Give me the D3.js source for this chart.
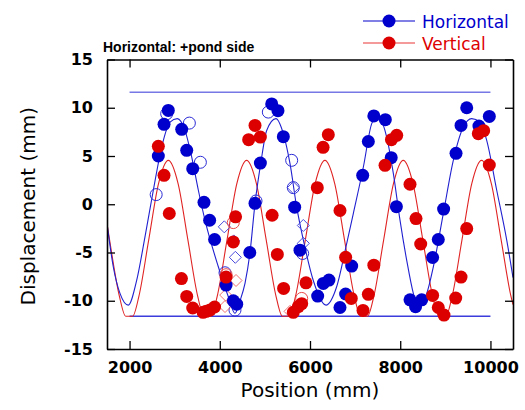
<!DOCTYPE html>
<html>
<head>
<meta charset="utf-8">
<script src="https://cdn.jsdelivr.net/npm/d3@7"></script>
<style>
  html, body { margin: 0; padding: 0; background: #fff; }
  svg { display: block; }
</style>
</head>
<body>
<svg id="chart" width="525" height="410"></svg>
<script>
// ---------------- DATA ----------------
const xTicks = [2000, 4000, 6000, 8000, 10000];
const yTicks = [-15, -10, -5, 0, 5, 10, 15];
const xDomain = [1500, 10500];
const yDomain = [-15, 15];

const titleText = "Horizontal: +pond side";
const xTitle = "Position (mm)";
const yTitle = "Displacement (mm)";
const seriesNames = ["Horizontal", "Vertical"];

// limit lines (mm)
const limitX = [2000, 10000];
const limitLevels = [11.6, -11.6];

// Horizontal measurements (filled blue)
const horizontal = [
  [2638, 5.0], [2764, 8.28], [2859, 9.72], [3156, 7.76], [3267, 5.59], [3400, 3.69],
  [3650, 0.2], [3775, -1.66], [3885, -3.65], [4140, -8.38], [4300, -10.0], [4375, -10.35],
  [4665, -5.0], [4781, 0.1], [4900, 4.27], [5151, 10.4], [5290, 9.7], [5409, 7.0],
  [5660, -0.3], [5778, -4.76], [6170, -9.52], [6295, -8.2], [6420, -7.86], [6665, -10.7],
  [6790, -9.3], [6924, -6.41], [7168, 3.0], [7293, 6.5], [7415, 9.15], [7670, 8.76],
  [7800, 4.83], [7915, -0.25], [8217, -9.9], [8340, -10.62], [8476, -9.9], [8718, -5.52],
  [8844, -3.65], [8962, -0.5], [9237, 5.28], [9348, 8.17], [9474, 10.0], [9745, 8.1],
  [9975, 9.1]
];

// Vertical measurements (filled red)
const vertical = [
  [2638, 6.0], [2764, 3.0], [2881, -0.96], [3150, -7.7], [3267, -9.55], [3400, -10.75],
  [3630, -11.2], [3700, -11.1], [3783, -10.97], [3885, -10.65], [4140, -7.55], [4300, -3.9],
  [4350, -1.3], [4640, 6.69], [4781, 8.17], [4900, 6.96], [5160, -1.14], [5276, -5.2],
  [5415, -8.72], [5630, -11.2], [5741, -10.6], [5816, -10.3], [5911, -8.14], [6162, 1.72],
  [6290, 5.9], [6406, 7.21], [6665, -0.65], [6790, -5.5], [6915, -9.76], [7175, -11.0],
  [7293, -9.33], [7415, -6.31], [7663, 4.03], [7805, 6.69], [7922, 7.14], [8217, 2.07],
  [8350, -1.48], [8454, -4.12], [8718, -9.45], [8844, -10.7], [8970, -11.48], [9230, -9.72],
  [9348, -7.55], [9474, -2.52], [9731, 7.31], [9850, 7.62], [9975, 4.07]
];

// additional horizontal readings (open blue circles / diamonds)
const horizontalOpenCircles = [
  [2590, 1.0], [2823, 9.38], [3326, 8.41], [3570, 4.35], [4116, -7.1], [4337, -10.97],
  [4803, 0.34], [5076, 9.55], [5594, 4.55], [5630, 1.72], [5837, -5.1]
];
const horizontalOpenDiamonds = [
  [4100, -2.34], [4310, -3.8], [4345, -5.5], [5630, 1.72], [5852, -2.2], [5852, -4.05]
];
// additional vertical readings (open red circles / diamonds)
const verticalOpenCircles = [
  [4300, -1.9], [4140, -7.3], [5816, -9.76]
];
const verticalOpenDiamonds = [
  [4360, -7.9], [4131, -9.41], [4116, -10.6], [5557, -11.1]
];

// fitted curves
const horizontalCurve = [
  [1500, -2.0], [1640, -6.5], [1788, -9.24], [1972, -10.45], [2159, -7.86], [2342, -3.38],
  [2527, 1.45], [2712, 5.93], [2897, 8.51], [3059, 8.87], [3229, 7.65], [3377, 4.9],
  [3525, 1.45], [3672, -1.65], [3968, -6.48], [4190, -9.59], [4337, -11.3], [4448, -10.0],
  [4559, -8.2], [4670, -5.0], [4781, 0.07], [4907, 4.2], [5040, 7.65], [5246, 8.87],
  [5409, 7.3], [5557, 4.2], [5705, -0.3], [5852, -3.7], [6073, -7.9], [6355, -10.45],
  [6591, -8.55], [6813, -4.07], [6960, -0.97], [7183, 3.86], [7368, 8.35], [7478, 9.03],
  [7552, 8.87], [7700, 6.96], [7848, 3.17], [7995, -1.65], [8143, -5.79], [8291, -9.24],
  [8380, -10.5], [8587, -9.24], [8734, -6.48], [8955, -0.97], [9177, 4.55], [9399, 8.0],
  [9584, 8.87], [9769, 8.5], [9917, 6.62], [10139, 1.45], [10361, -3.72], [10500, -7.6]
];
const verticalCurve = [
  [1500, -2.0], [1557, -3.69], [1774, -9.52], [1914, -11.6], [2068, -11.6], [2208, -9.52],
  [2425, -3.69], [2642, 2.14], [2859, 4.55], [3076, 2.14], [3293, -3.69], [3510, -9.52],
  [3650, -11.6], [3804, -11.6], [3944, -9.52], [4161, -3.69], [4378, 2.14], [4595, 4.55],
  [4812, 2.14], [5029, -3.69], [5246, -9.52], [5386, -11.6], [5540, -11.6], [5680, -9.52],
  [5897, -3.69], [6114, 2.14], [6331, 4.55], [6548, 2.14], [6765, -3.69], [6982, -9.52],
  [7122, -11.6], [7276, -11.6], [7416, -9.52], [7633, -3.69], [7850, 2.14], [8067, 4.55],
  [8284, 2.14], [8501, -3.69], [8718, -9.52], [8858, -11.6], [9012, -11.6], [9152, -9.52],
  [9369, -3.69], [9586, 2.14], [9803, 4.55], [10020, 2.14], [10237, -3.69], [10454, -9.52],
  [10500, -10.4]
];

// ---------------- DRAW ----------------
const BLUE = "#0000cc", RED = "#dd0000";
const svg = d3.select("#chart");
const pL = 107, pR = 513, pT = 59.5, pB = 349;

const x = d3.scaleLinear().domain(xDomain).range([pL, pR]);
const y = d3.scaleLinear().domain(yDomain).range([pB, pT]);

svg.append("defs").append("clipPath").attr("id", "plotclip")
  .append("rect").attr("x", pL).attr("y", pT).attr("width", pR - pL).attr("height", pB - pT);

const plot = svg.append("g").attr("clip-path", "url(#plotclip)");

// limit lines
plot.selectAll("line.limit").data(limitLevels).enter().append("line")
  .attr("class", "limit")
  .attr("x1", x(limitX[0])).attr("x2", x(limitX[1]))
  .attr("y1", d => y(d)).attr("y2", d => y(d))
  .attr("stroke", (d, i) => i === 0 ? "#7777e6" : "#3c3cdc")
  .attr("stroke-width", 1.6);

const line = d3.line().x(d => x(d[0])).y(d => y(d[1])).curve(d3.curveMonotoneX);
plot.append("path").datum(verticalCurve).attr("d", line)
  .attr("fill", "none").attr("stroke", "#e02424").attr("stroke-width", 1.1);
plot.append("path").datum(horizontalCurve).attr("d", line)
  .attr("fill", "none").attr("stroke", "#2020d0").attr("stroke-width", 1.1);

const R = 6.5;
const diamond = (cx, cy, s) => `M${cx},${cy - s}L${cx + s},${cy}L${cx},${cy + s}L${cx - s},${cy}Z`;

// open markers
plot.selectAll("circle.ho").data(horizontalOpenCircles).enter().append("circle")
  .attr("cx", d => x(d[0])).attr("cy", d => y(d[1])).attr("r", R - 0.5)
  .attr("fill", "none").attr("stroke", "#2a2ad6").attr("stroke-width", 1);
plot.selectAll("path.hd").data(horizontalOpenDiamonds).enter().append("path")
  .attr("d", d => diamond(x(d[0]), y(d[1]), 6))
  .attr("fill", "none").attr("stroke", "#4a4ade").attr("stroke-width", 1);
plot.selectAll("circle.vo").data(verticalOpenCircles).enter().append("circle")
  .attr("cx", d => x(d[0])).attr("cy", d => y(d[1])).attr("r", R - 0.5)
  .attr("fill", "none").attr("stroke", "#ea4a4a").attr("stroke-width", 1);
plot.selectAll("path.vd").data(verticalOpenDiamonds).enter().append("path")
  .attr("d", d => diamond(x(d[0]), y(d[1]), 6))
  .attr("fill", "none").attr("stroke", "#f07070").attr("stroke-width", 1);

// filled markers
plot.selectAll("circle.h").data(horizontal).enter().append("circle")
  .attr("cx", d => x(d[0])).attr("cy", d => y(d[1])).attr("r", R).attr("fill", BLUE);
plot.selectAll("circle.v").data(vertical).enter().append("circle")
  .attr("cx", d => x(d[0])).attr("cy", d => y(d[1])).attr("r", R).attr("fill", RED);

// axes
const tickFont = "'DejaVu Sans', sans-serif";
const TL = 8;
const axL = svg.append("g").attr("transform", `translate(${pL},0)`)
  .call(d3.axisLeft(y).tickValues(yTicks).tickSizeInner(-TL).tickSizeOuter(0).tickPadding(14)
    .tickFormat(d => String(d)));
const axR = svg.append("g").attr("transform", `translate(${pR},0)`)
  .call(d3.axisRight(y).tickValues(yTicks).tickSizeInner(-TL).tickSizeOuter(0).tickFormat(""));
const axB = svg.append("g").attr("transform", `translate(0,${pB})`)
  .call(d3.axisBottom(x).tickValues(xTicks).tickSizeInner(-TL).tickSizeOuter(0).tickPadding(13)
    .tickFormat(d => String(d)));
const axT = svg.append("g").attr("transform", `translate(0,${pT})`)
  .call(d3.axisTop(x).tickValues(xTicks).tickSizeInner(-TL).tickSizeOuter(0).tickFormat(""));
[axL, axR, axB, axT].forEach(a => {
  a.select(".domain").attr("stroke", "#000").attr("stroke-width", 1.6);
  a.selectAll(".tick line").attr("stroke", "#000").attr("stroke-width", 1.3);
  a.selectAll("text").attr("font-family", tickFont).attr("font-weight", "bold")
    .attr("font-size", 16).attr("fill", "#000");
});

// titles
svg.append("text").attr("x", 103).attr("y", 52)
  .attr("font-family", "'Liberation Sans', Arial, sans-serif").attr("font-weight", "bold")
  .attr("font-size", 14).text(titleText);
svg.append("text").attr("x", (pL + pR) / 2).attr("y", 397).attr("text-anchor", "middle")
  .attr("font-family", tickFont).attr("font-size", 20).text(xTitle);
svg.append("text").attr("transform", `translate(35,${(pT + pB) / 2 + 2}) rotate(-90)`)
  .attr("text-anchor", "middle")
  .attr("font-family", tickFont).attr("font-size", 20).text(yTitle);

// legend
const legend = svg.append("g");
const legY = [21, 43];
const legColors = [BLUE, RED];
const legLineColors = [BLUE, "#f07878"];
seriesNames.forEach((name, i) => {
  legend.append("line").attr("x1", 363).attr("x2", 415).attr("y1", legY[i]).attr("y2", legY[i])
    .attr("stroke", legLineColors[i]).attr("stroke-width", i === 0 ? 1.2 : 1.5);
  legend.append("circle").attr("cx", 389).attr("cy", legY[i]).attr("r", R).attr("fill", legColors[i]);
  legend.append("text").attr("x", 422).attr("y", legY[i] + 7)
    .attr("font-family", tickFont).attr("font-size", 17).attr("fill", legColors[i]).text(name);
});
</script>
</body>
</html>
